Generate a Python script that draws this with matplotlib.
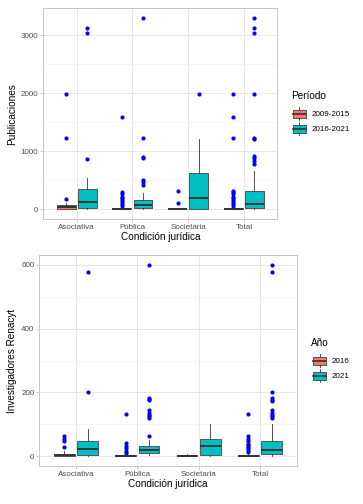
import matplotlib
matplotlib.use("Agg")
import matplotlib.pyplot as plt
from matplotlib.patches import Rectangle, Patch
from matplotlib.lines import Line2D
from matplotlib.legend_handler import HandlerBase
from matplotlib.ticker import MultipleLocator

plt.rcParams['font.family'] = ['Liberation Sans', 'DejaVu Sans']

categories = ["Asociativa", "Pública", "Societaria", "Total"]
xlabel = "Condición jurídica"

# ---- Panel 1: Publicaciones ----
pub_groups = ["2009-2015", "2016-2021"]
pub_q1 = [[0, 0, 0, 0], [28, 22, 0, 28]]
pub_med = [[35, 5, 0, 5], [132, 69, 200, 92]]
pub_q3 = [[69, 20, 10, 30], [345, 160, 622, 316]]
pub_lo = [[0, 0, 0, 0], [0, 0, 0, 0]]
pub_hi = [[104, 40, 25, 50], [535, 276, 1210, 662]]
pub_fliers = [
    [[178, 1226, 1986],
     [60, 90, 120, 160, 190, 220, 260, 300, 1595],
     [115, 320],
     [60, 90, 120, 160, 190, 220, 260, 300, 320, 1226, 1595, 1986]],
    [[875, 3046, 3132],
     [420, 480, 505, 880, 910, 1235, 3300],
     [1990],
     [783, 840, 881, 921, 1210, 1230, 1990, 3046, 3132, 3300]],
]

# ---- Panel 2: Investigadores Renacyt ----
ren_groups = ["2016", "2021"]
ren_q1 = [[0, 0, 0, 0], [5, 10, 4, 8]]
ren_med = [[5, 0, 0, 0], [23, 21, 31, 21]]
ren_q3 = [[9, 3, 3, 3], [47, 31, 54, 47]]
ren_lo = [[0, 0, 0, 0], [0, 5, 0, 0]]
ren_hi = [[16, 5, 7, 7], [86, 50, 102, 102]]
ren_fliers = [
    [[30, 48, 56, 64],
     [10, 18, 25, 33, 42, 132],
     [],
     [15, 20, 25, 30, 35, 40, 48, 56, 64, 132]],
    [[200, 577],
     [65, 120, 125, 130, 135, 145, 175, 180, 183, 598],
     [],
     [120, 125, 128, 135, 146, 172, 177, 182, 200, 577, 598]],
]

fills = ["#F8766D", "#00BFC4"]
EDGE = "#555555"
MED = "#333333"


class HandlerBox(HandlerBase):
    def create_artists(self, legend, orig_handle, xdescent, ydescent,
                       width, height, fontsize, trans):
        fc = orig_handle.get_facecolor()
        w = width * 0.8
        x0 = (width - w) / 2 - xdescent
        y0 = -ydescent
        rect = Rectangle((x0, y0 + height * 0.18), w, height * 0.64,
                         facecolor=fc, edgecolor=EDGE, lw=0.7, transform=trans)
        wl1 = Line2D([x0 + w / 2] * 2, [y0 - height * 0.02, y0 + height * 0.18],
                     color=MED, lw=0.6, transform=trans)
        wl2 = Line2D([x0 + w / 2] * 2, [y0 + height * 0.82, y0 + height * 1.02],
                     color=MED, lw=0.6, transform=trans)
        ml = Line2D([x0, x0 + w], [y0 + height * 0.5] * 2, color=MED, lw=1.2,
                    transform=trans)
        return [rect, wl1, wl2, ml]


def draw_panel(ax, groups, q1, med, q3, lo, hi, fliers, ylabel, major, minor,
               ylim, legend_title, legend_anchor):
    offsets = [-0.19, 0.19]
    width = 0.34
    for g in range(len(groups)):
        stats = []
        for i in range(len(categories)):
            stats.append(dict(q1=q1[g][i], med=med[g][i], q3=q3[g][i],
                              whislo=lo[g][i], whishi=hi[g][i],
                              fliers=fliers[g][i]))
        pos = [i + 1 + offsets[g] for i in range(len(categories))]
        ax.bxp(stats, positions=pos, widths=width, showcaps=False,
               patch_artist=True,
               boxprops=dict(facecolor=fills[g], edgecolor=EDGE, lw=0.7),
               medianprops=dict(color=MED, lw=1.4),
               whiskerprops=dict(color=MED, lw=0.6),
               flierprops=dict(marker='o', markerfacecolor='blue',
                               markeredgecolor='blue', markersize=2.0,
                               linestyle='none'),
               zorder=3)
    ax.set_xlim(0.4, 4.6)
    ax.set_ylim(*ylim)
    ax.set_xticks(range(1, len(categories) + 1))
    ax.set_xticklabels(categories)
    ax.yaxis.set_major_locator(MultipleLocator(major))
    ax.yaxis.set_minor_locator(MultipleLocator(minor))
    ax.grid(True, which='major', color='#E3E3E3', lw=0.6, zorder=0)
    ax.grid(True, which='minor', axis='y', color='#F0F0F0', lw=0.4, zorder=0)
    ax.set_axisbelow(True)
    for sp in ax.spines.values():
        sp.set_color('#C8C8C8')
        sp.set_linewidth(0.7)
    ax.tick_params(axis='both', which='major', length=2, width=0.5,
                   color='#B3B3B3', labelsize=5.8, labelcolor='#4D4D4D', pad=1.5)
    ax.tick_params(axis='y', which='minor', length=0)
    ax.set_xlabel(xlabel, fontsize=7.2, labelpad=1)
    ax.set_ylabel(ylabel, fontsize=7.2, labelpad=3)
    handles = [Patch(facecolor=fills[g]) for g in range(len(groups))]
    leg = ax.legend(handles, groups, title=legend_title, loc='center left',
                    bbox_to_anchor=legend_anchor,
                    bbox_transform=ax.figure.transFigure,
                    handler_map={Patch: HandlerBox()}, frameon=False,
                    fontsize=5.8, title_fontsize=7.2, handlelength=2.0,
                    handleheight=2.0, handletextpad=0.5, labelspacing=0.3,
                    borderaxespad=0, borderpad=0)
    leg._legend_box.align = "left"
    leg._legend_box.sep = 5


fig = plt.figure(figsize=(3.63, 5.04), dpi=100)
ax1 = fig.add_axes([43.3 / 363, 1 - 219 / 504, 234 / 363, (219 - 8.3) / 504])
ax2 = fig.add_axes([39.3 / 363, 1 - 466 / 504, 257.4 / 363, 211 / 504])

draw_panel(ax1, pub_groups, pub_q1, pub_med, pub_q3, pub_lo, pub_hi, pub_fliers,
           "Publicaciones", 1000, 500, (-165, 3465), "Período", (0.802, 0.776))
draw_panel(ax2, ren_groups, ren_q1, ren_med, ren_q3, ren_lo, ren_hi, ren_fliers,
           "Investigadores Renacyt", 200, 100, (-30, 630), "Año", (0.858, 0.286))

fig.savefig("out.png", dpi=100, facecolor='white')
